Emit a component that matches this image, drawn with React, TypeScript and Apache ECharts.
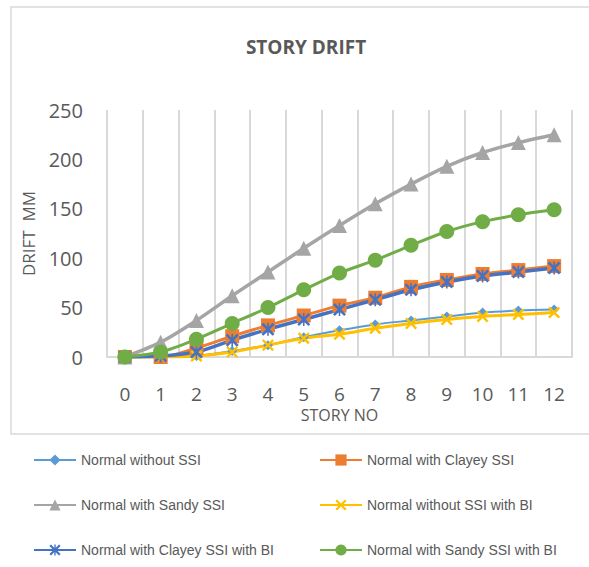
import React, { useEffect, useRef } from "react";
import * as echarts from "echarts";

const stories = ["0", "1", "2", "3", "4", "5", "6", "7", "8", "9", "10", "11", "12"];
const normalWithoutSSI = [0, 0, 1, 6, 12, 20, 27, 33, 37, 41, 45, 47, 48];
const normalWithClayey = [0, 0, 9, 21, 32, 42, 52, 60, 71, 78, 84, 88, 92];
const normalWithSandy = [0, 15, 37, 62, 86, 110, 133, 155, 175, 193, 207, 217, 225];
const normalWithoutSSIBI = [0, 0, 1, 5, 12, 19, 23, 29, 34, 38, 41, 43, 45];
const normalWithClayeyBI = [0, 1, 5, 17, 28, 38, 48, 58, 68, 76, 82, 86, 90];
const normalWithSandyBI = [0, 5, 18, 34, 50, 68, 85, 98, 113, 127, 137, 144, 149];
const yTicks = [0, 50, 100, 150, 200, 250];

const X_PATH = "path://M0,1.4 L1.4,0 L5,3.6 L8.6,0 L10,1.4 L6.4,5 L10,8.6 L8.6,10 L5,6.4 L1.4,10 L0,8.6 L3.6,5 Z";
const STAR_PATH = "path://M0,1.4 L1.4,0 L5,3.6 L8.6,0 L10,1.4 L6.4,5 L10,8.6 L8.6,10 L5,6.4 L1.4,10 L0,8.6 L3.6,5 Z M4.4,0 L5.6,0 L5.6,10 L4.4,10 Z";

export default function App() {
  const ref = useRef<HTMLDivElement>(null);
  useEffect(() => {
    document.body.style.margin = "0";
    const chart = echarts.init(ref.current!, null, { renderer: "svg" });
    const mk = (name: string, data: number[], color: string, symbol: string, size: number, width: number) => ({
      name,
      type: "line",
      data,
      smooth: 0.3,
      symbol,
      symbolSize: size,
      showSymbol: true,
      lineStyle: { color, width },
      itemStyle: { color, borderWidth: 0 },
      emphasis: { disabled: true },
    });
    const legendText = { fontFamily: "Liberation Sans", fontSize: 14, color: "#595959" };
    chart.setOption({
      animation: false,
      backgroundColor: "#ffffff",
      title: {
        text: "STORY DRIFT",
        left: 301,
        top: 32,
        textAlign: "center",
        textStyle: { fontFamily: "Open Sans", fontWeight: "bold", fontSize: 19, color: "#595959" },
      },
      graphic: [
        {
          type: "rect",
          shape: { x: 11, y: 7, width: 600, height: 427 },
          style: { fill: "none", stroke: "#d9d9d9", lineWidth: 1.5 },
          silent: true,
        },
      ],
      grid: { left: 107, right: 17, top: 110, bottom: 210, containLabel: false },
      xAxis: {
        type: "category",
        data: stories,
        boundaryGap: true,
        name: "STORY NO",
        nameLocation: "middle",
        nameGap: 50,
        nameTextStyle: { fontFamily: "Open Sans", fontSize: 16, color: "#595959" },
        axisLine: { lineStyle: { color: "#d9d9d9", width: 2 } },
        axisTick: { show: false },
        axisLabel: { fontFamily: "Open Sans", fontSize: 19, color: "#595959", margin: 27, interval: 0 },
        splitLine: { show: true, interval: 0, lineStyle: { color: "#d9d9d9", width: 2 } },
      },
      yAxis: {
        type: "value",
        min: yTicks[0],
        max: yTicks[yTicks.length - 1],
        interval: 50,
        name: "DRIFT  MM",
        nameLocation: "middle",
        nameGap: 70,
        nameTextStyle: { fontFamily: "Open Sans", fontSize: 17, color: "#595959" },
        axisLine: { show: false },
        axisTick: { show: false },
        splitLine: { show: false },
        axisLabel: { fontFamily: "Open Sans", fontSize: 20, color: "#595959", margin: 24 },
      },
      legend: [
        {
          orient: "vertical",
          left: 33,
          top: 453,
          padding: 0,
          itemWidth: 42,
          itemHeight: 14,
          itemGap: 31,
          textStyle: legendText,
          data: ["Normal without SSI", "Normal with Sandy SSI", "Normal with Clayey SSI with BI"],
        },
        {
          orient: "vertical",
          left: 319,
          top: 453,
          padding: 0,
          itemWidth: 42,
          itemHeight: 14,
          itemGap: 31,
          textStyle: legendText,
          data: ["Normal with Clayey SSI", "Normal without SSI with BI", "Normal with Sandy SSI with BI"],
        },
      ],
      series: [
        mk("Normal without SSI", normalWithoutSSI, "#5B9BD5", "diamond", 10, 2),
        mk("Normal with Clayey SSI", normalWithClayey, "#ED7D31", "rect", 14, 3),
        mk("Normal with Sandy SSI", normalWithSandy, "#A5A5A5", "triangle", 15, 3.5),
        mk("Normal without SSI with BI", normalWithoutSSIBI, "#FFC000", X_PATH, 12, 3),
        mk("Normal with Clayey SSI with BI", normalWithClayeyBI, "#4472C4", STAR_PATH, 13, 3.5),
        mk("Normal with Sandy SSI with BI", normalWithSandyBI, "#70AD47", "circle", 15, 3),
      ],
    });
    return () => chart.dispose();
  }, []);
  return <div ref={ref} style={{ width: 589, height: 567 }} />;
}
